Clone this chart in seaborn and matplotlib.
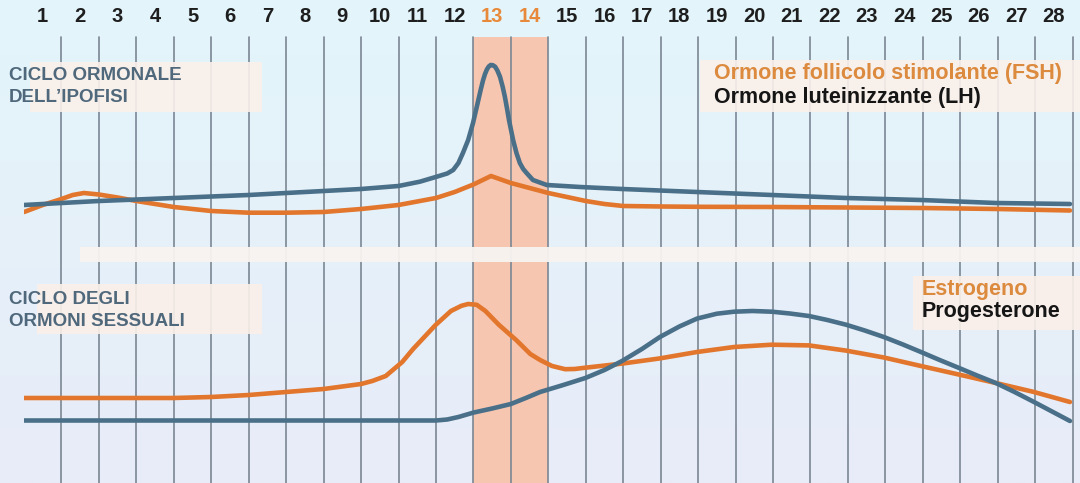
import numpy as np
import pandas as pd
import matplotlib
matplotlib.use("Agg")
import matplotlib.pyplot as plt
from matplotlib.patches import Rectangle
import seaborn as sns

# ---------------- data ----------------
days = list(range(1, 29))
ovulation_days = [13, 14]

# Upper panel: pituitary hormones (relative level)
lh_x = [0, 1, 2, 3, 4, 5, 6, 7, 8, 9, 10, 10.57, 11.02, 11.3, 11.46, 11.6, 11.72, 11.86,
        11.99, 12.12, 12.2, 12.26, 12.31, 12.36, 12.41, 12.46, 12.52, 12.58, 12.64, 12.71,
        12.78, 12.84, 12.9, 12.95, 13.06, 13.15, 13.24, 13.33, 13.42, 13.59, 13.96,
        14.85, 15.97, 17.97, 19.97, 21.95, 23.95, 25.95, 27.93]
lh_y = [45, 47, 49, 50.5, 52, 53.5, 55, 57, 59, 61, 64, 68.3, 73.3, 76.5, 80, 87, 97, 110,
        127, 148, 161, 170, 176, 180.5, 183.5, 185, 184.8, 183.3, 179.5, 173.3,
        163.5, 153.3, 141, 130, 110, 97, 87, 81, 77, 70, 65,
        63, 61, 58, 55, 52, 50, 47, 46]

fsh_x = [0, 0.5, 1.0, 1.3, 1.6, 2.0, 2.5, 3.0, 4.0, 5.0, 6.0, 7.0, 8.0, 9.0, 10.0, 11.0,
         11.5, 12.0, 12.47, 13.0, 13.5, 14.0, 14.5, 15.0, 15.5, 16.0, 17.0, 18.0, 20.0,
         22.0, 24.0, 26.0, 27.93]
fsh_y = [38, 45, 51, 55, 57, 55.5, 52.5, 49, 43, 39, 37.3, 37.3, 38, 41, 45, 52,
         58, 65.5, 74, 67, 62, 57, 53, 49, 46, 44, 43.5, 43.2, 43, 42.5, 42, 41, 39.5]

# Lower panel: sex hormones (relative level)
est_x = [0, 1, 2, 3, 4, 5, 6, 7, 8, 9, 9.3, 9.66, 10.1, 10.39, 10.99, 11.4, 11.68, 11.86,
         12.09, 12.32, 12.68, 13.15, 13.52, 13.78, 14.1, 14.45, 14.7, 14.99, 15.97, 16.98,
         17.97, 18.96, 19.97, 20.96, 21.95, 22.96, 23.95, 24.97, 25.95, 26.97, 27.93]
est_y = [85, 85, 85, 85, 85, 86, 88, 91, 94, 99, 102, 107, 121, 134, 158, 172, 177.2, 179,
         178.2, 172, 158.2, 142.7, 129, 123, 117, 113.8, 114, 115.3, 119.4, 124.6,
         131, 136, 138.3, 137.6, 132.4, 125.5, 117, 108.4, 100, 91, 81]

prog_x = [0, 2, 4, 6, 8, 10, 11.0, 11.3, 11.6, 12.0, 12.5, 13.0, 13.4, 13.78, 14.4, 14.99,
          15.5, 15.97, 16.5, 16.98, 17.5, 17.97, 18.5, 18.96, 19.45, 19.97, 20.45, 20.96,
          21.45, 21.95, 22.45, 22.96, 23.45, 23.95, 24.45, 24.97, 25.45, 25.95, 26.45,
          26.97, 27.93]
prog_y = [62.5, 62.5, 62.5, 62.5, 62.5, 62.5, 62.5, 63.5, 66, 70.4, 74.5, 79, 85, 91, 98,
          105, 113, 122, 134, 146, 156.5, 164.4, 169.3, 171.3, 172, 171.3, 169.5, 167,
          163, 158.3, 152.5, 146, 138.8, 131, 123, 115, 107.5, 100, 91, 81, 62]

top_labels = ["CICLO ORMONALE", "DELL\u2019IPOFISI"]
bottom_labels = ["CICLO DEGLI", "ORMONI SESSUALI"]
fsh_name = "Ormone follicolo stimolante (FSH)"
lh_name = "Ormone luteinizzante (LH)"
est_name = "Estrogeno"
prog_name = "Progesterone"

# ---------------- style ----------------
sns.set_theme(style="white")
plt.rcParams["font.family"] = ["Liberation Sans", "DejaVu Sans"]

BLUE = "#4a7089"
ORANGE = "#e2762c"
GRID = "#7b8794"
SHADE = "#f7c6b1"
LABEL = "#4f687b"
ORANGE_TXT = "#dc8a3e"

W, H = 1080, 483
DAYW = 37.45
X0 = 24.0
fig = plt.figure(figsize=(W / 100, H / 100), dpi=100)

# background axes in pixel-like coords (x in days, y in pixels from top)
bg = fig.add_axes([0, 0, 1, 1])
bg.set_xlim(-X0 / DAYW, (W - X0) / DAYW)
bg.set_ylim(H, 0)
bg.axis("off")

# gradient background
grad = np.linspace(0, 1, 256)[:, None]
top_c = np.array(matplotlib.colors.to_rgb("#e3f5fb"))
bot_c = np.array(matplotlib.colors.to_rgb("#e8ecf8"))
img = top_c[None, None, :] * (1 - grad[:, :, None]) + bot_c[None, None, :] * grad[:, :, None]
bg.imshow(img, extent=[-X0 / DAYW, (W - X0) / DAYW, H, 0], aspect="auto", zorder=0)

# ovulation shading
bg.axvspan(min(ovulation_days) - 1, max(ovulation_days), ymin=0, ymax=1 - 37 / H,
           color=SHADE, zorder=0.5, lw=0)

# vertical day lines
for d in days:
    bg.plot([d, d], [37, H], color=GRID, lw=1.2, zorder=1)

# separation band
band = Rectangle((80 / DAYW - X0 / DAYW, 247), (W - 80) / DAYW, 15,
                 facecolor="#f8f4f1", edgecolor="none", zorder=2, alpha=0.95)
bg.add_patch(band)

def pxbox(x0, y0, x1, y1, alpha=0.9):
    bg.add_patch(Rectangle(((x0 - X0) / DAYW, y0), (x1 - x0) / DAYW, y1 - y0,
                           facecolor="#fbf0ea", edgecolor="none", alpha=alpha, zorder=2))

pxbox(30, 62, 262, 112)
pxbox(700, 60, W, 112)
pxbox(37, 284, 262, 334)
pxbox(913, 276, W, 330)

# day numbers
for d in days:
    col = "#e8893a" if d in ovulation_days else "#1e1e1e"
    bg.text(d - 0.5, 17, str(d), ha="center", va="center", fontsize=14.5,
            fontweight="bold", color=col, zorder=3)

# panel labels
fs = 13.5
fl = 15.5
bg.text((9 - X0) / DAYW, 75, top_labels[0], ha="left", va="center", fontsize=fs,
        fontweight="bold", color=LABEL, zorder=3)
bg.text((9 - X0) / DAYW, 98, top_labels[1], ha="left", va="center", fontsize=fs,
        fontweight="bold", color=LABEL, zorder=3)
bg.text((9 - X0) / DAYW, 299, bottom_labels[0], ha="left", va="center", fontsize=fs,
        fontweight="bold", color=LABEL, zorder=3)
bg.text((9 - X0) / DAYW, 322, bottom_labels[1], ha="left", va="center", fontsize=fs,
        fontweight="bold", color=LABEL, zorder=3)

bg.text((714 - X0) / DAYW, 74, fsh_name, ha="left", va="center", fontsize=fl,
        fontweight="bold", color=ORANGE_TXT, zorder=3)
bg.text((714 - X0) / DAYW, 97, lh_name, ha="left", va="center", fontsize=fl,
        fontweight="bold", color="#151515", zorder=3)
bg.text((922 - X0) / DAYW, 289, est_name, ha="left", va="center", fontsize=fl,
        fontweight="bold", color=ORANGE_TXT, zorder=3)
bg.text((922 - X0) / DAYW, 311, prog_name, ha="left", va="center", fontsize=fl,
        fontweight="bold", color="#151515", zorder=3)

# ---------------- curve panels ----------------
left = X0 / W
width = DAYW * 28 / W

ax_top = fig.add_axes([left, (H - 250) / H, width, 210 / H])
ax_bot = fig.add_axes([left, 0, width, 223 / H])

df_top = pd.concat([
    pd.DataFrame({"day": fsh_x, "level": fsh_y, "hormone": "FSH"}),
    pd.DataFrame({"day": lh_x, "level": lh_y, "hormone": "LH"}),
])
df_bot = pd.concat([
    pd.DataFrame({"day": est_x, "level": est_y, "hormone": "Estrogeno"}),
    pd.DataFrame({"day": prog_x, "level": prog_y, "hormone": "Progesterone"}),
])

lw = 3.3
sns.lineplot(data=df_top, x="day", y="level", hue="hormone", estimator=None,
             palette={"FSH": ORANGE, "LH": BLUE}, hue_order=["FSH", "LH"],
             lw=lw, legend=False, ax=ax_top, solid_capstyle="round", solid_joinstyle="round")
sns.lineplot(data=df_bot, x="day", y="level", hue="hormone", estimator=None,
             palette={"Estrogeno": ORANGE, "Progesterone": BLUE},
             hue_order=["Estrogeno", "Progesterone"],
             lw=lw, legend=False, ax=ax_bot, solid_capstyle="round", solid_joinstyle="round")
for a in (ax_top, ax_bot):
    a.patch.set_alpha(0)
    a.set_xlim(0, 28)
    a.axis("off")
ax_top.set_ylim(0, 210)
ax_bot.set_ylim(0, 223)

fig.savefig("out.png", dpi=100)
